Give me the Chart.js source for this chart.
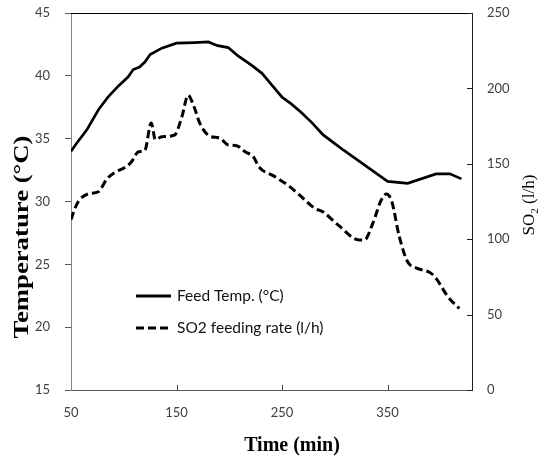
<!DOCTYPE html>
<html><head><meta charset="utf-8">
<script src="https://cdn.jsdelivr.net/npm/chart.js@4.4.0/dist/chart.umd.min.js"></script>
<style>html,body{margin:0;padding:0;background:#fff}canvas{display:block}</style>
</head><body>
<canvas id="c" width="545" height="459"></canvas>
<script>
// ---- data ----
const timeTemp = [50,55,65,76,85,95,104,109,115,120,125,136,150,167,180,189,199,208,221,231,240,250,259,268,278,289,300,308,330,350,369,396,409,420];
const tempValues = [34.0,34.6,35.7,37.3,38.3,39.2,39.9,40.5,40.7,41.1,41.7,42.2,42.6,42.65,42.7,42.4,42.25,41.6,40.85,40.2,39.3,38.3,37.75,37.1,36.3,35.3,34.6,34.1,32.8,31.6,31.45,32.2,32.2,31.8];
const timeSO2 = [50,54,58,66,76,84,92,101,107,114,120,126,130,136,148,155,161,166,172,181,191,199,207,215,223,228,242,257,267,281,289,303,323,328,336,344,349,354,361,369,377,391,396,407,418];
const so2Values = [113,121,126,130,131.5,140,144.5,147.5,151,158,159,177,166,168,169,181,195.5,189,177,168.5,167,162.5,162,158,154.5,148,142,135,129,120.5,118,109.5,99.5,99.5,110.5,126,130,125,102,85,81,77.5,74,62,54];
const xTickValues = [50,150,250,350];
const xRange = [50,430];
const tempRange = [15,45];
const so2Range = [0,250];
const seriesNames = ['Feed Temp. (°C)','SO2 feeding rate (l/h)'];
const xTitle = 'Time (min)';
const yLeftTitle = 'Temperature (°C)';
const yRightTitle = ['SO','2',' (l/h)'];

const tickFont = {family:'Lato', size:13};
const tickColor = '#404040';

const decor = {
  id:'decor',
  afterDraw(chart){
    const ctx = chart.ctx, a = chart.chartArea;
    const xs = chart.scales.x, yr = chart.scales.yR;
    ctx.save();
    // top border
    ctx.strokeStyle = '#000'; ctx.lineWidth = 1;
    ctx.beginPath(); ctx.moveTo(a.left, Math.round(a.top)+0.5); ctx.lineTo(a.right, Math.round(a.top)+0.5); ctx.stroke();
    // inward ticks on x
    ctx.strokeStyle = '#404040';
    xTickValues.forEach(v=>{
      if(v===xRange[0]) return;
      const px = Math.round(xs.getPixelForValue(v))+0.5;
      ctx.beginPath(); ctx.moveTo(px, a.bottom); ctx.lineTo(px, a.bottom-5); ctx.stroke();
    });
    // inward ticks on right axis
    ctx.strokeStyle = '#222';
    yr.ticks.forEach(t=>{
      const py = Math.round(yr.getPixelForValue(t.value))+0.5;
      ctx.beginPath(); ctx.moveTo(a.right-5, py); ctx.lineTo(a.right, py); ctx.stroke();
    });
    // x title
    ctx.fillStyle = '#000';
    ctx.font = 'bold 20px "Liberation Serif"';
    ctx.textAlign = 'center'; ctx.textBaseline = 'middle';
    ctx.fillText(xTitle, 292, 446);
    // left title (stretched like the reference)
    ctx.save();
    ctx.translate(23, 237); ctx.rotate(-Math.PI/2);
    const w = ctx.measureText(yLeftTitle).width;
    ctx.scale(203/w, 1);
    ctx.fillText(yLeftTitle, 0, 0);
    ctx.restore();
    // right title with subscript
    ctx.save();
    ctx.translate(530, 205); ctx.rotate(-Math.PI/2);
    const big = '17px "Liberation Serif"', small = '11px "Liberation Serif"';
    ctx.font = big; const w1 = ctx.measureText(yRightTitle[0]).width, w3 = ctx.measureText(yRightTitle[2]).width;
    ctx.font = small; const w2 = ctx.measureText(yRightTitle[1]).width;
    let x0 = -(w1+w2+w3)/2;
    ctx.textAlign = 'left';
    ctx.font = big; ctx.fillText(yRightTitle[0], x0, 0);
    ctx.font = small; ctx.fillText(yRightTitle[1], x0+w1, 5);
    ctx.font = big; ctx.fillText(yRightTitle[2], x0+w1+w2, 0);
    ctx.restore();
    // legend
    const legY = [296, 328];
    chart.data.datasets.forEach((ds,i)=>{
      ctx.save();
      ctx.strokeStyle = '#000'; ctx.lineWidth = 3;
      ctx.setLineDash(ds.borderDash || []);
      ctx.beginPath(); ctx.moveTo(136, legY[i]); ctx.lineTo(171, legY[i]); ctx.stroke();
      ctx.restore();
      ctx.fillStyle = '#111';
      ctx.font = '15.5px Lato'; ctx.textAlign = 'left'; ctx.textBaseline = 'middle';
      ctx.fillText(ds.label, 177, legY[i]);
    });
    ctx.restore();
  }
};

function fixV(w){ return s => { s.width = w; s.paddingTop = 0; s.paddingBottom = 0; }; }

new Chart(document.getElementById('c'), {
  type:'line',
  data:{
    datasets:[
      {label:seriesNames[0], data:timeTemp.map((t,i)=>({x:t,y:tempValues[i]})), yAxisID:'yL',
       borderColor:'#000', borderWidth:2.7, pointRadius:0, tension:0, fill:false},
      {label:seriesNames[1], data:timeSO2.map((t,i)=>({x:t,y:so2Values[i]})), yAxisID:'yR',
       borderColor:'#000', borderWidth:3, borderDash:[8,4], pointRadius:0, cubicInterpolationMode:'monotone', fill:false}
    ]
  },
  plugins:[decor],
  options:{
    responsive:false, animation:false, devicePixelRatio:1,
    layout:{padding:{top:13,left:0,right:0,bottom:0}},
    plugins:{legend:{display:false}, tooltip:{enabled:false}},
    scales:{
      x:{type:'linear', min:xRange[0], max:xRange[1],
         afterBuildTicks(s){ s.ticks = xTickValues.map(v=>({value:v})); },
         afterFit(s){ s.height = 69; s.paddingLeft = 0; s.paddingRight = 0; },
         grid:{display:false, drawTicks:false},
         border:{display:true, color:'#595959', width:1},
         ticks:{font:tickFont, color:tickColor, padding:15, maxRotation:0, autoSkip:false}},
      yL:{position:'left', min:tempRange[0], max:tempRange[1],
         ticks:{stepSize:5, font:tickFont, color:tickColor, padding:15},
         afterFit: fixV(71),
         grid:{drawOnChartArea:false, drawTicks:true, tickLength:6, color:'#595959'},
         border:{display:true, color:'#868686', width:1}},
      yR:{position:'right', min:so2Range[0], max:so2Range[1],
         ticks:{stepSize:50, font:tickFont, color:tickColor, padding:15},
         afterFit: fixV(73),
         grid:{display:false, drawTicks:false},
         border:{display:true, color:'#222', width:1}}
    }
  }
});
</script>
</body></html>
